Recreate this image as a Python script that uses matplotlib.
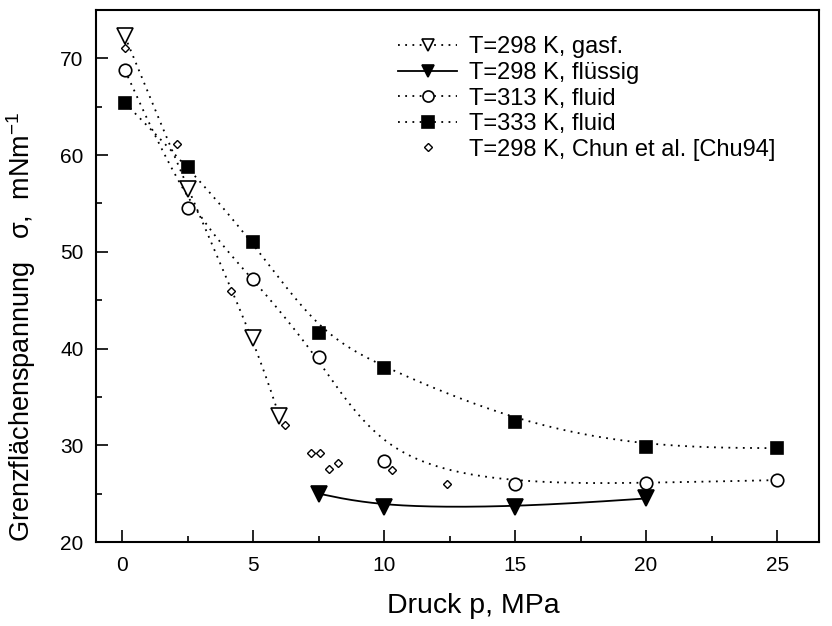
import numpy as np
import matplotlib
matplotlib.use("Agg")
import matplotlib.pyplot as plt

plt.rcParams['font.family'] = ['Liberation Sans', 'DejaVu Sans']
plt.rcParams['mathtext.fontset'] = 'custom'
plt.rcParams['mathtext.rm'] = 'Liberation Sans'
plt.rcParams['mathtext.default'] = 'regular'

# ---- data ----
p_gas = [0.1, 2.5, 5.0, 6.0]
s_gas = [72.3, 56.5, 41.1, 33.0]

p_liq = [7.5, 10.0, 15.0, 20.0]
s_liq = [25.0, 23.6, 23.6, 24.5]

p_313 = [0.1, 2.5, 5.0, 7.5, 10.0, 15.0, 20.0, 25.0]
s_313 = [68.8, 54.5, 47.2, 39.1, 28.4, 26.0, 26.1, 26.4]

p_333 = [0.1, 2.5, 5.0, 7.5, 10.0, 15.0, 20.0, 25.0]
s_333 = [65.4, 58.8, 51.0, 41.6, 38.0, 32.4, 29.8, 29.7]

p_chun = [0.1, 2.1, 4.15, 6.2, 7.2, 7.55, 7.9, 8.25, 10.3, 12.4]
s_chun = [71.1, 61.1, 46.0, 32.1, 29.2, 29.2, 27.5, 28.2, 27.4, 26.0]

labels = ["T=298 K, gasf.", "T=298 K, flüssig", "T=313 K, fluid",
          "T=333 K, fluid", "T=298 K, Chun et al. [Chu94]"]
x_ticks = [0, 5, 10, 15, 20, 25]
y_ticks = [20, 30, 40, 50, 60, 70]


def bspline(xs, ys, n=40):
    """Clamped uniform cubic B-spline using the data points as control points."""
    P = np.column_stack([xs, ys]).astype(float)
    P = np.vstack([P[0], P[0], P, P[-1], P[-1]])
    t = np.linspace(0, 1, n)
    b0 = (1 - t) ** 3 / 6
    b1 = (3 * t ** 3 - 6 * t ** 2 + 4) / 6
    b2 = (-3 * t ** 3 + 3 * t ** 2 + 3 * t + 1) / 6
    b3 = t ** 3 / 6
    out = []
    for i in range(len(P) - 3):
        seg = (np.outer(b0, P[i]) + np.outer(b1, P[i + 1]) +
               np.outer(b2, P[i + 2]) + np.outer(b3, P[i + 3]))
        out.append(seg)
    out = np.vstack(out)
    return out[:, 0], out[:, 1]


fig = plt.figure(figsize=(8.32, 6.26), dpi=100)
ax = fig.add_axes([96 / 832, 1 - 542 / 626, (819 - 96) / 832, (542 - 10) / 626])

dot = (0, (1, 3))
lw = 1.3
mew = 1.2

# curves
for xs, ys, ls in [(p_gas, s_gas, dot), (p_liq, s_liq, '-'),
                   (p_313, s_313, dot), (p_333, s_333, dot)]:
    cx, cy = bspline(xs, ys)
    ax.plot(cx, cy, color='black', lw=lw, linestyle=ls, zorder=2)

ax.plot(p_gas, s_gas, linestyle='none', marker='v', ms=11, mfc='white',
        mec='black', mew=mew, zorder=3)
ax.plot(p_liq, s_liq, linestyle='none', marker='v', ms=11, mfc='black',
        mec='black', mew=mew, zorder=3)
ax.plot(p_313, s_313, linestyle='none', marker='o', ms=9, mfc='white',
        mec='black', mew=mew, zorder=3)
ax.plot(p_333, s_333, linestyle='none', marker='s', ms=8.5, mfc='black',
        mec='black', mew=mew, zorder=3)
ax.plot(p_chun, s_chun, linestyle='none', marker='D', ms=4.2, mfc='white',
        mec='black', mew=1.0, zorder=3)

# legend proxies
h1, = ax.plot([], [], color='black', lw=lw, linestyle=dot, marker='v', ms=9,
              mfc='white', mec='black', mew=mew)
h2, = ax.plot([], [], color='black', lw=lw, linestyle='-', marker='v', ms=9,
              mfc='black', mec='black', mew=mew)
h3, = ax.plot([], [], color='black', lw=lw, linestyle=dot, marker='o', ms=8,
              mfc='white', mec='black', mew=mew)
h4, = ax.plot([], [], color='black', lw=lw, linestyle=dot, marker='s', ms=8,
              mfc='black', mec='black', mew=mew)
h5, = ax.plot([], [], linestyle='none', marker='D', ms=4.2, mfc='white',
              mec='black', mew=1.0)
leg = ax.legend([h1, h2, h3, h4, h5], labels, loc='upper left',
                bbox_to_anchor=(0.405, 0.968), frameon=False, fontsize=17,
                handlelength=2.5, handletextpad=0.5, labelspacing=0.15,
                numpoints=1, borderaxespad=0)

ax.set_xlim(-1.0, 26.6)
ax.set_ylim(20, 75)
ax.set_xticks(x_ticks)
ax.set_yticks(y_ticks)
ax.set_xticks(np.arange(2.5, 26, 5), minor=True)
ax.set_yticks(np.arange(25, 75, 10), minor=True)
ax.tick_params(which='both', direction='in', width=1.2, labelsize=15,
               top=False, right=False)
ax.tick_params(which='major', length=8.5)
ax.tick_params(which='minor', length=4.3)
ax.tick_params(axis='x', pad=10)
ax.tick_params(axis='y', pad=9)
for s in ax.spines.values():
    s.set_linewidth(1.5)

ax.set_xlabel("Druck p, MPa", fontsize=20.5)
ax.xaxis.set_label_coords(0.522, -0.095)
ax.set_ylabel("Grenzflächenspannung   σ,  mNm$^{-1}$", fontsize=19.5)
ax.yaxis.set_label_coords(-0.080, 0.405)

fig.savefig("out.png", dpi=100)
